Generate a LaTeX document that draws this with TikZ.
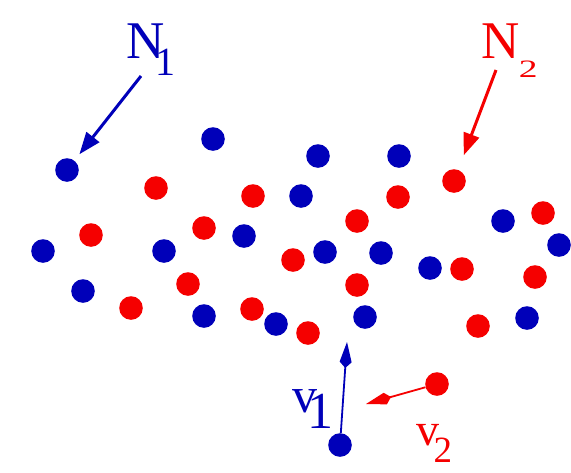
\documentclass[tikz,border=0pt]{standalone}
\usepackage{fontspec}
\setmainfont{Liberation Serif}
\usetikzlibrary{arrows.meta}
\definecolor{pblue}{RGB}{0,0,185}
\definecolor{pred}{RGB}{245,0,0}
\begin{document}
\begin{tikzpicture}[x=1pt,y=-1pt,
  bdot/.style={circle,fill=pblue,inner sep=0pt,minimum size=23.6pt},
  rdot/.style={circle,fill=pred,inner sep=0pt,minimum size=23.6pt},
  lab/.style={anchor=base west,inner sep=0pt},
  narrow/.style={line width=3pt,-{Triangle[length=22pt,width=16pt]}},
  varrow/.style={line width=1.8pt,-{Kite[length=26pt,width=12pt,inset=6pt]}}]
\useasboundingbox (0,0) rectangle (571,472);
% blue particles
\node[bdot] (b1) at (67,170) {};
\node[bdot] (b2) at (213,139) {};
\node[bdot] (b3) at (318,156) {};
\node[bdot] (b4) at (399,156) {};
\node[bdot] (b5) at (301,196) {};
\node[bdot] (b6) at (244,236) {};
\node[bdot] (b7) at (164,251) {};
\node[bdot] (b8) at (43,251) {};
\node[bdot] (b9) at (325,252) {};
\node[bdot] (b10) at (381,253) {};
\node[bdot] (b11) at (430,268) {};
\node[bdot] (b12) at (83,291) {};
\node[bdot] (b13) at (204,316) {};
\node[bdot] (b14) at (276,324) {};
\node[bdot] (b15) at (365,317) {};
\node[bdot] (b16) at (503,221) {};
\node[bdot] (b17) at (559,245) {};
\node[bdot] (b18) at (527,318) {};
\node[bdot] (b19) at (340,445) {};
% red particles
\node[rdot] (r1) at (156,188) {};
\node[rdot] (r2) at (253,196) {};
\node[rdot] (r3) at (398,197) {};
\node[rdot] (r4) at (454,181) {};
\node[rdot] (r5) at (357,221) {};
\node[rdot] (r6) at (91,235) {};
\node[rdot] (r7) at (204,228) {};
\node[rdot] (r8) at (293,260) {};
\node[rdot] (r9) at (462,269) {};
\node[rdot] (r10) at (543,213) {};
\node[rdot] (r11) at (535,277) {};
\node[rdot] (r12) at (188,284) {};
\node[rdot] (r13) at (131,308) {};
\node[rdot] (r14) at (252,309) {};
\node[rdot] (r15) at (308,333) {};
\node[rdot] (r16) at (357,285) {};
\node[rdot] (r17) at (478,326) {};
\node[rdot] (r18) at (437,384) {};
% labels
\node[lab,text=pblue] (N1) at (126.5,58) {{\fontsize{53}{53}\selectfont N}\kern-9.5pt\raisebox{-17pt}{\fontsize{40}{40}\selectfont 1}};
\node[lab,text=pred] (N2) at (481.5,58) {{\fontsize{53}{53}\selectfont N}\kern-1pt\raisebox{-19pt}{\scalebox{1.5}[1]{\fontsize{25}{25}\selectfont 2}}};
\node[lab,text=pblue] (V1) at (292.5,412) {{\fontsize{50}{50}\selectfont v}\kern-10.5pt\raisebox{-16pt}{\fontsize{52}{52}\selectfont 1}};
\node[lab,text=pred] (V2) at (416.5,445) {{\fontsize{46}{46}\selectfont v}\kern-6pt\raisebox{-17pt}{\fontsize{37}{37}\selectfont 2}};
% arrows
\coordinate (n1s) at (141,76);
\coordinate (n2s) at (496,70);
\coordinate (v1tip) at (347,342);
\coordinate (v2tip) at (366,404);
\draw[narrow,pblue,shorten >=8pt] (n1s) -- (b1);
\draw[narrow,pred,shorten >=15.5pt] (n2s) -- (r4);
\draw[varrow,pblue] (b19) -- (v1tip);
\draw[varrow,pred] (r18) -- (v2tip);
\end{tikzpicture}
\end{document}
